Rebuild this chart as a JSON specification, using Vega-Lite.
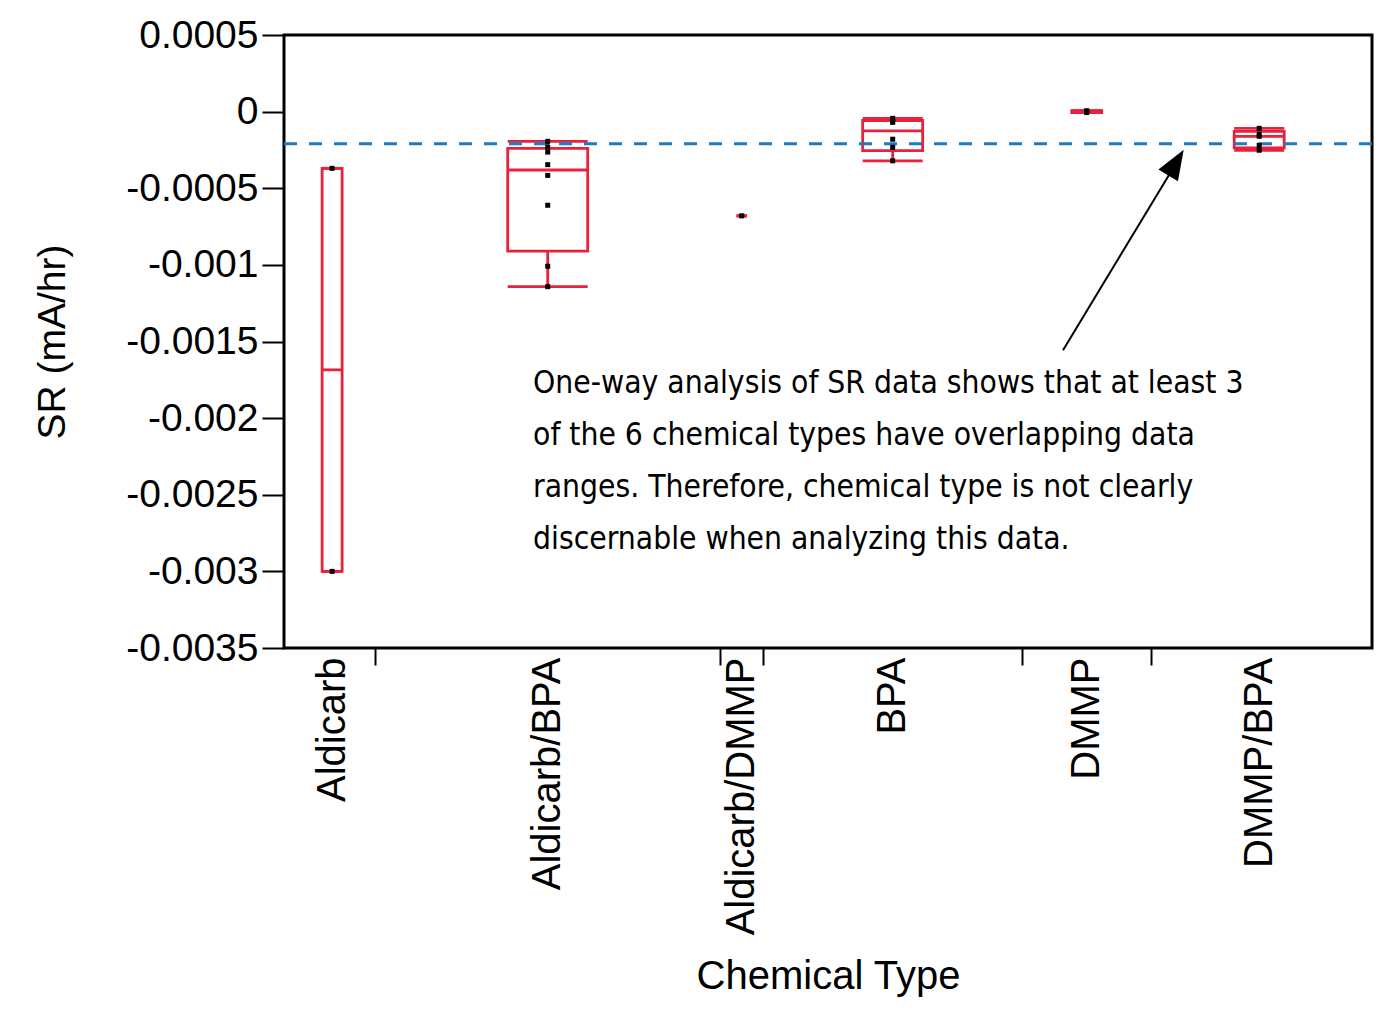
{
  "$schema": "https://vega.github.io/schema/vega-lite/v6.json",
  "width": 1088,
  "height": 613,
  "autosize": {"type": "none"},
  "padding": {"left": 284, "top": 35, "right": 9, "bottom": 368},
  "background": "white",
  "config": {
    "font": "Liberation Sans",
    "view": {"stroke": "black", "strokeWidth": 3},
    "axis": {"grid": false, "domain": false, "labelColor": "black", "titleColor": "black", "tickColor": "black", "titleFontWeight": "normal", "labelFont": "Liberation Sans", "titleFont": "Liberation Sans"}
  },
  "datasets": {
    "points": [
      {"chem": "Aldicarb", "sr": -0.00037},
      {"chem": "Aldicarb", "sr": -0.003},
      {"chem": "Aldicarb/BPA", "sr": -0.000194},
      {"chem": "Aldicarb/BPA", "sr": -0.000232},
      {"chem": "Aldicarb/BPA", "sr": -0.000264},
      {"chem": "Aldicarb/BPA", "sr": -0.000346},
      {"chem": "Aldicarb/BPA", "sr": -0.000416},
      {"chem": "Aldicarb/BPA", "sr": -0.000611},
      {"chem": "Aldicarb/BPA", "sr": -0.001009},
      {"chem": "Aldicarb/BPA", "sr": -0.001142},
      {"chem": "Aldicarb/DMMP", "sr": -0.00068},
      {"chem": "BPA", "sr": -0.000044},
      {"chem": "BPA", "sr": -0.000063},
      {"chem": "BPA", "sr": -0.00007},
      {"chem": "BPA", "sr": -0.00018},
      {"chem": "BPA", "sr": -0.000233},
      {"chem": "BPA", "sr": -0.000321},
      {"chem": "DMMP", "sr": 0.000006},
      {"chem": "DMMP", "sr": 0.0},
      {"chem": "DMMP", "sr": -0.000006},
      {"chem": "DMMP/BPA", "sr": -0.000109},
      {"chem": "DMMP/BPA", "sr": -0.000148},
      {"chem": "DMMP/BPA", "sr": -0.000161},
      {"chem": "DMMP/BPA", "sr": -0.00022},
      {"chem": "DMMP/BPA", "sr": -0.000252}
    ],
    "stats": [
      {"chem": "Aldicarb", "lo": -0.003, "q1": -0.003, "med": -0.001685, "q3": -0.00037, "hi": -0.00037},
      {"chem": "Aldicarb/BPA", "lo": -0.001142, "q1": -0.00091, "med": -0.000381, "q3": -0.00024, "hi": -0.000194},
      {"chem": "Aldicarb/DMMP", "lo": -0.00068, "q1": -0.00068, "med": -0.00068, "q3": -0.00068, "hi": -0.00068},
      {"chem": "BPA", "lo": -0.000321, "q1": -0.000255, "med": -0.000125, "q3": -0.000058, "hi": -0.000044},
      {"chem": "DMMP", "lo": -0.000006, "q1": -0.000006, "med": 0.0, "q3": 0.000006, "hi": 0.000006},
      {"chem": "DMMP/BPA", "lo": -0.000252, "q1": -0.000236, "med": -0.000161, "q3": -0.000129, "hi": -0.000109}
    ],
    "reference": [{"line": "reference", "sr": -0.00021}],
    "note": [{"lines": ["One-way analysis of SR data shows that at least 3", "of the 6 chemical types have overlapping data", "ranges. Therefore, chemical type is not clearly", "discernable when analyzing this data."]}],
    "arrow": [{"item": "arrow"}]
  },
  "resolve": {"scale": {"x": "shared", "y": "shared"}, "axis": {"x": "independent"}},
  "layer": [
    {
      "data": {"name": "points"},
      "transform": [
        {"window": [{"op": "row_number", "as": "idx"}], "sort": [{"field": "chem", "order": "ascending"}]},
        {"aggregate": [{"op": "mean", "field": "idx", "as": "center"}, {"op": "count", "as": "n"}], "groupby": ["chem"]},
        {"lookup": "chem", "from": {"data": {"name": "stats"}, "key": "chem", "fields": ["lo", "q1", "med", "q3", "hi"]}}
      ],
      "layer": [
        {
          "mark": {"type": "bar", "fill": "transparent", "stroke": "#e8213c", "strokeWidth": 2.8, "opacity": 1},
          "encoding": {
            "x": {"field": "center", "type": "quantitative", "scale": {"domain": [0.5, 25.5], "nice": false, "zero": false},
              "axis": {"orient": "bottom", "values": [2.5, 10.5, 11.5, 17.5, 20.5], "labels": false, "ticks": true, "tickSize": 17, "tickWidth": 2, "tickColor": "black", "domain": false, "title": null, "grid": false}},
            "y": {"field": "q1", "type": "quantitative", "scale": {"domain": [-0.0035, 0.0005], "nice": false, "zero": false},
              "axis": {"values": [0.0005, 0, -0.0005, -0.001, -0.0015, -0.002, -0.0025, -0.003, -0.0035], "labelExpr": "replace(format(datum.value, '~g'), '\u2212', '-')", "labelFontSize": 39, "tickSize": 22, "tickWidth": 2, "labelPadding": 4, "title": "SR (mA/hr)", "titleFontSize": 39, "titlePadding": 53, "labelFlush": false, "labelOverlap": false, "labelLimit": 400, "domain": false, "grid": false}},
            "y2": {"field": "q3"},
            "size": {"field": "n", "type": "quantitative", "scale": {"domain": [0, 8], "range": [0, 80]}, "legend": null}
          }
        },
        {
          "mark": {"type": "rule", "color": "#e8213c", "strokeWidth": 2.8, "opacity": 1},
          "encoding": {
            "x": {"field": "center", "type": "quantitative"},
            "y": {"field": "q3", "type": "quantitative"},
            "y2": {"field": "hi"}
          }
        },
        {
          "mark": {"type": "rule", "color": "#e8213c", "strokeWidth": 2.8, "opacity": 1},
          "encoding": {
            "x": {"field": "center", "type": "quantitative"},
            "y": {"field": "lo", "type": "quantitative"},
            "y2": {"field": "q1"}
          }
        },
        {
          "mark": {"type": "tick", "orient": "horizontal", "color": "#e8213c", "thickness": 2.8, "opacity": 1},
          "encoding": {
            "x": {"field": "center", "type": "quantitative"},
            "y": {"field": "hi", "type": "quantitative"},
            "size": {"field": "n", "type": "quantitative", "legend": null}
          }
        },
        {
          "mark": {"type": "tick", "orient": "horizontal", "color": "#e8213c", "thickness": 2.8, "opacity": 1},
          "encoding": {
            "x": {"field": "center", "type": "quantitative"},
            "y": {"field": "lo", "type": "quantitative"},
            "size": {"field": "n", "type": "quantitative", "legend": null}
          }
        },
        {
          "mark": {"type": "tick", "orient": "horizontal", "color": "#e8213c", "thickness": 2.8, "opacity": 1},
          "encoding": {
            "x": {"field": "center", "type": "quantitative"},
            "y": {"field": "med", "type": "quantitative"},
            "size": {"field": "n", "type": "quantitative", "legend": null}
          }
        }
      ]
    },
    {
      "data": {"name": "reference"},
      "mark": {"type": "rule", "color": "#1f7ac4", "strokeWidth": 3, "strokeDash": [13, 12], "opacity": 1},
      "encoding": {
        "y": {"field": "sr", "type": "quantitative"}
      }
    },
    {
      "data": {"name": "points"},
      "transform": [
        {"window": [{"op": "row_number", "as": "idx"}], "sort": [{"field": "chem", "order": "ascending"}]},
        {"joinaggregate": [{"op": "mean", "field": "idx", "as": "center"}], "groupby": ["chem"]}
      ],
      "mark": {"type": "square", "color": "black", "size": 25, "opacity": 1},
      "encoding": {
        "x": {"field": "center", "type": "quantitative",
          "axis": {"orient": "bottom", "values": [1.5, 6.5, 11, 14.5, 19, 23], "labelExpr": "datum.value < 2 ? 'Aldicarb' : datum.value < 7 ? 'Aldicarb/BPA' : datum.value < 12 ? 'Aldicarb/DMMP' : datum.value < 15 ? 'BPA' : datum.value < 20 ? 'DMMP' : 'DMMP/BPA'", "labelAngle": -90, "labelAlign": "right", "labelBaseline": "middle", "labelFontSize": 40, "labelPadding": 9, "labelLimit": 500, "ticks": false, "tickSize": 0, "domain": false, "title": "Chemical Type", "titleFontSize": 40, "titlePadding": 108, "labelOverlap": false, "labelFlush": false, "labelBound": false, "grid": false}},
        "y": {"field": "sr", "type": "quantitative"}
      }
    },
    {
      "data": {"name": "note"},
      "mark": {"type": "text", "align": "left", "baseline": "top", "font": "DejaVu Sans Condensed", "fontSize": 31.5, "lineHeight": 52, "color": "black"},
      "encoding": {
        "x": {"datum": 6.16, "type": "quantitative", "axis": null},
        "y": {"datum": -0.001675, "type": "quantitative"},
        "text": {"field": "lines", "type": "nominal"}
      }
    },
    {
      "data": {"name": "arrow"},
      "mark": {"type": "rule", "color": "black", "strokeWidth": 2, "opacity": 1},
      "encoding": {
        "x": {"datum": 18.45, "type": "quantitative", "axis": null},
        "y": {"datum": -0.001557, "type": "quantitative"},
        "x2": {"datum": 21.08},
        "y2": {"datum": -0.000333}
      }
    },
    {
      "data": {"name": "arrow"},
      "mark": {"type": "point", "shape": "M0,0L-0.38,1L0.38,1Z", "filled": true, "color": "black", "size": 3600, "angle": 31.3, "opacity": 1, "strokeWidth": 0},
      "encoding": {
        "x": {"datum": 21.25, "type": "quantitative", "axis": null},
        "y": {"datum": -0.000249, "type": "quantitative"}
      }
    }
  ]
}
